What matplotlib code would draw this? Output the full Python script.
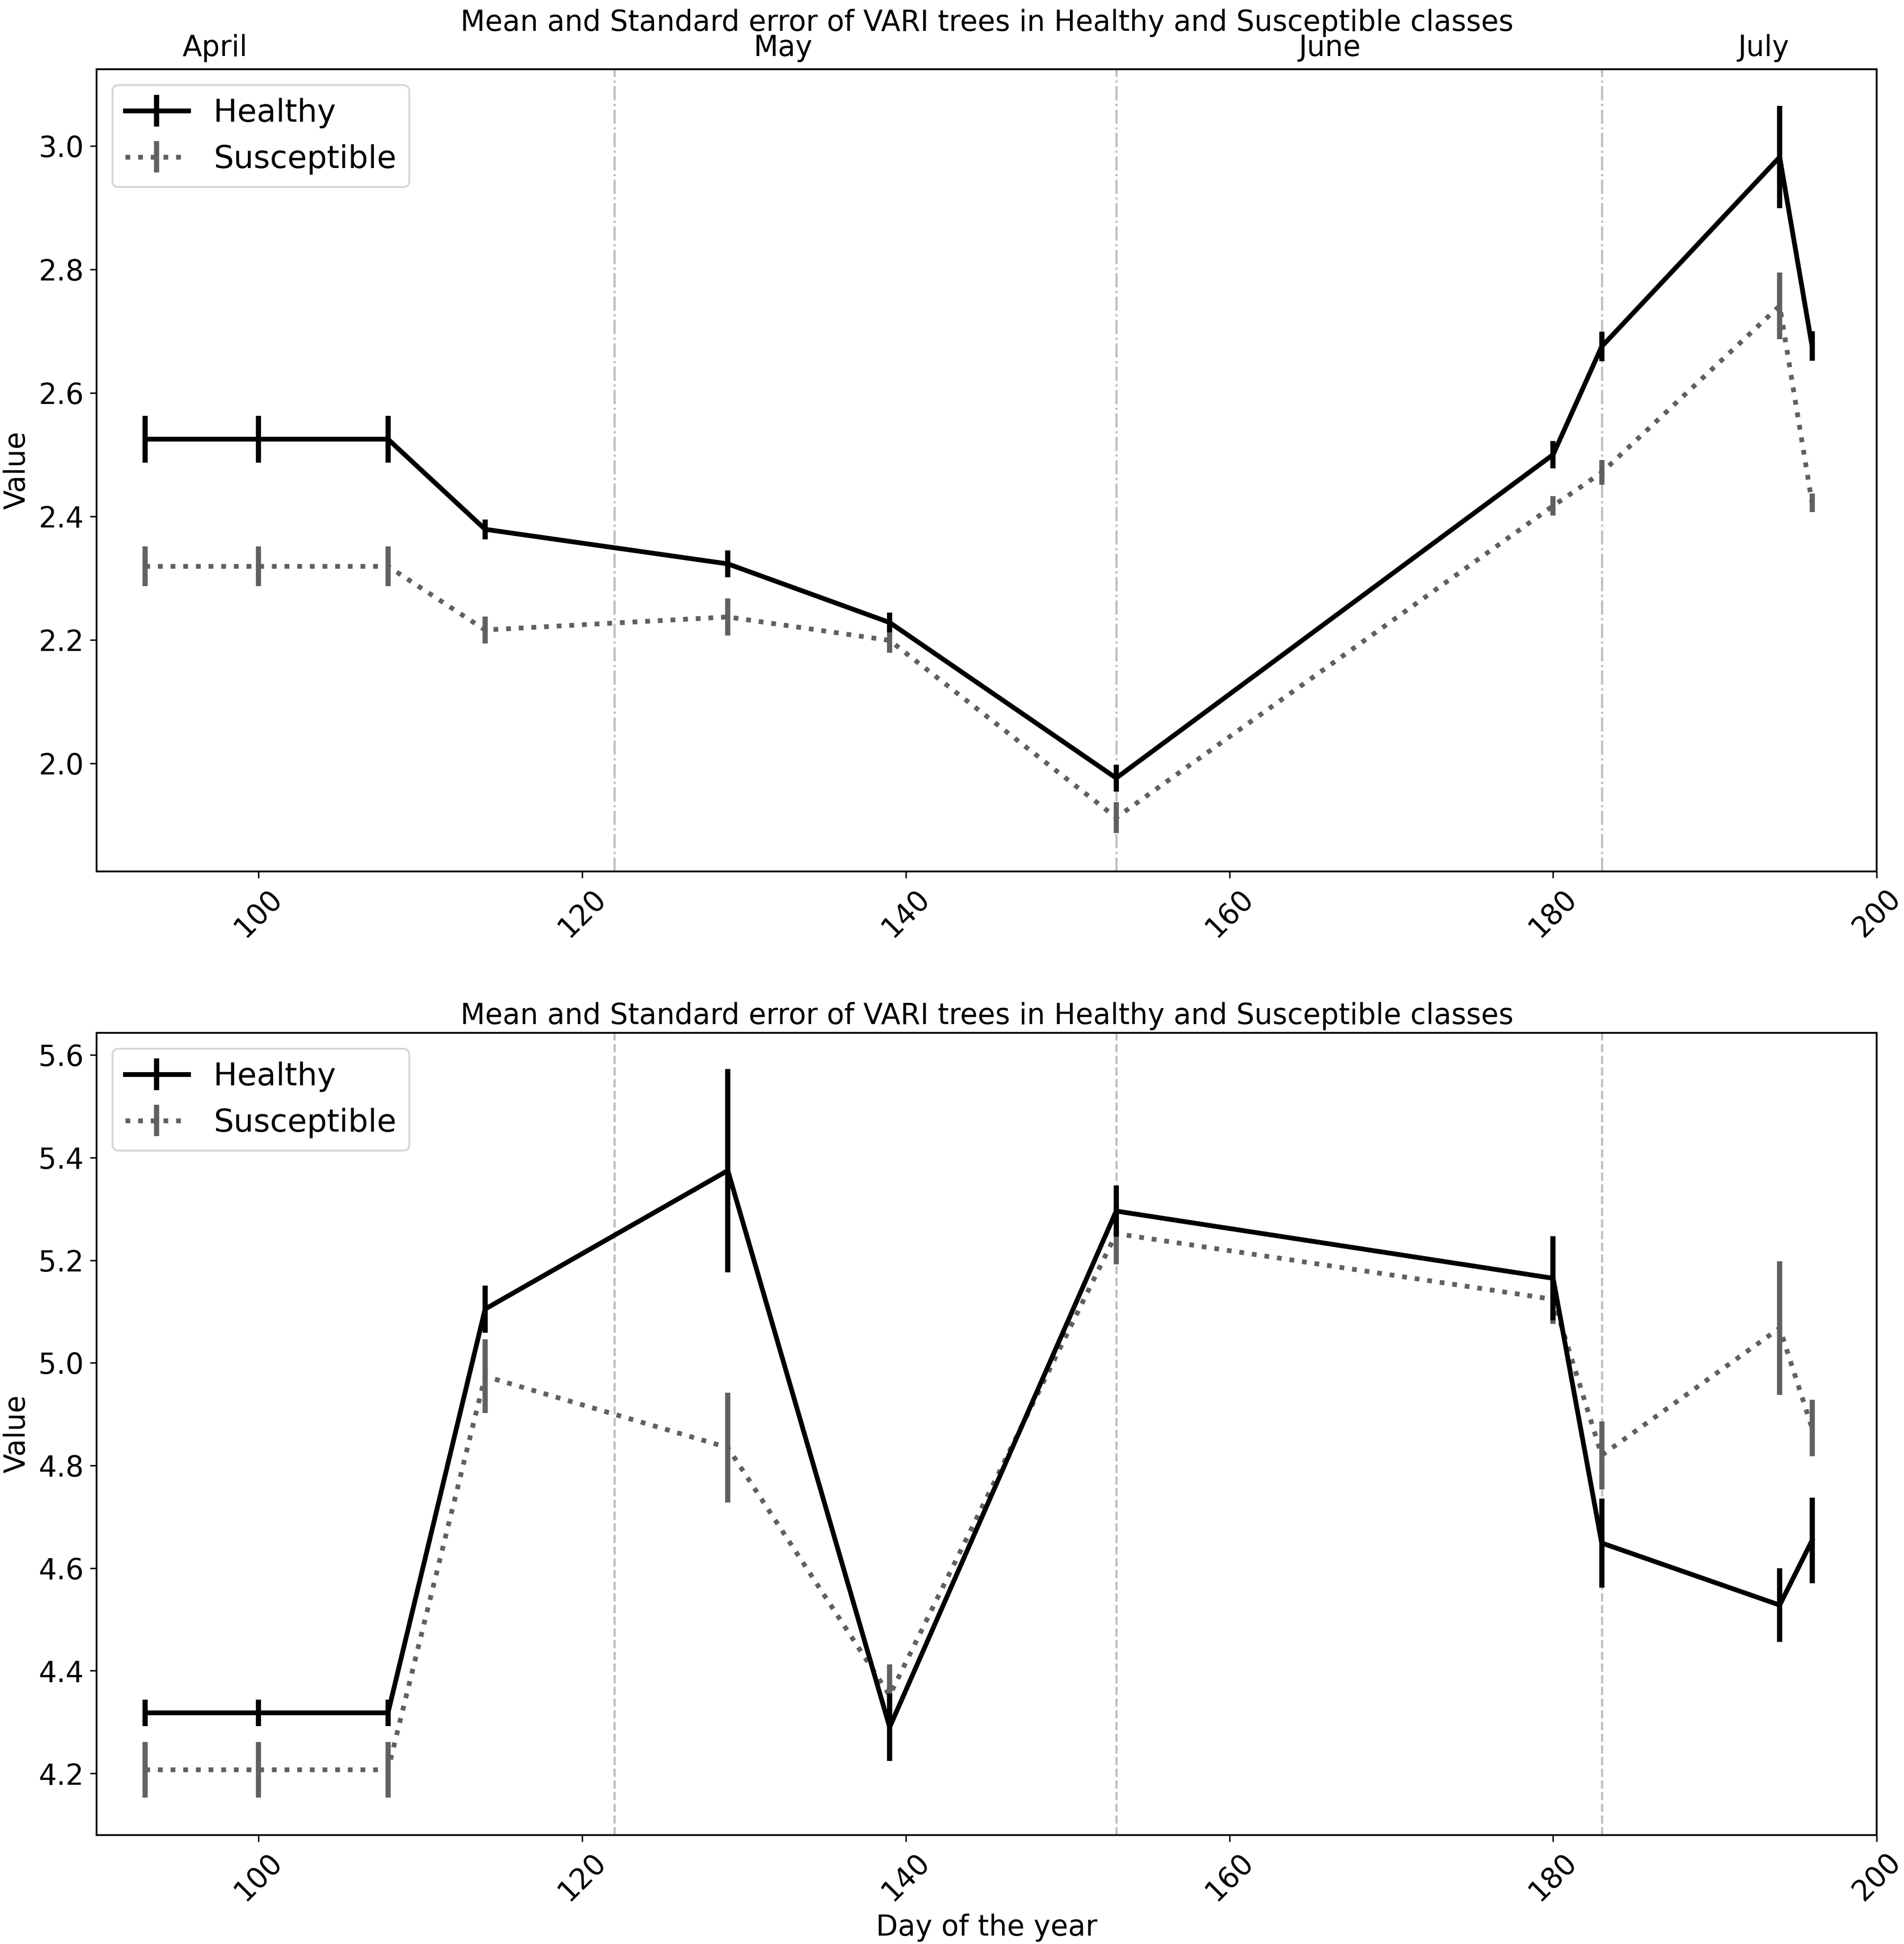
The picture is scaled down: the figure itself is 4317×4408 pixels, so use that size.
import matplotlib
matplotlib.use("Agg")
import matplotlib.pyplot as plt
import matplotlib.transforms as mtransforms

days = [93, 100, 108, 114, 129, 139, 153, 180, 183, 194, 196]

# Top panel
top_healthy_mean = [2.525, 2.525, 2.525, 2.379, 2.323, 2.228, 1.976, 2.500, 2.675, 2.982, 2.676]
top_healthy_se = [0.038, 0.038, 0.038, 0.016, 0.022, 0.016, 0.022, 0.022, 0.024, 0.083, 0.024]
top_susc_mean = [2.319, 2.319, 2.319, 2.216, 2.237, 2.199, 1.912, 2.417, 2.471, 2.741, 2.422]
top_susc_se = [0.032, 0.032, 0.032, 0.022, 0.030, 0.020, 0.025, 0.016, 0.020, 0.054, 0.015]

# Bottom panel
bot_healthy_mean = [4.318, 4.318, 4.318, 5.105, 5.375, 4.290, 5.296, 5.165, 4.649, 4.528, 4.654]
bot_healthy_se = [0.026, 0.026, 0.026, 0.046, 0.198, 0.066, 0.050, 0.082, 0.087, 0.072, 0.083]
bot_susc_mean = [4.207, 4.207, 4.207, 4.974, 4.835, 4.352, 5.252, 5.124, 4.820, 5.068, 4.873]
bot_susc_se = [0.054, 0.054, 0.054, 0.072, 0.107, 0.060, 0.060, 0.048, 0.066, 0.130, 0.055]

month_starts = [122, 153, 183]
month_names = ["April", "May", "June", "July"]
month_label_x = [97.3, 132.4, 166.2, 193.0]

title = "Mean and Standard error of VARI trees in Healthy and Susceptible classes"

FS = 15.5

fig = plt.figure(figsize=(4317 / 300, 4408 / 300), dpi=300)
ax1 = fig.add_axes([0.0508, 0.5518, 0.9349, 0.4125])
ax2 = fig.add_axes([0.0508, 0.0561, 0.9349, 0.4125])

panels = [
    (ax1, top_healthy_mean, top_healthy_se, top_susc_mean, top_susc_se, "-.", (1.825, 3.124)),
    (ax2, bot_healthy_mean, bot_healthy_se, bot_susc_mean, bot_susc_se, "--", (4.080, 5.643)),
]

for ax, hm, hs, sm, ss, vls, ylim in panels:
    for d in month_starts:
        ax.axvline(d, color="#c0c0c0", linestyle=vls, linewidth=1.2, zorder=1)
    ax.errorbar(days, hm, yerr=hs, color="black", linestyle="-", linewidth=2.6,
                elinewidth=2.8, label="Healthy", zorder=3)
    ax.errorbar(days, sm, yerr=ss, color="#606060", linestyle=":", linewidth=2.6,
                elinewidth=2.8, label="Susceptible", zorder=2)
    ax.set_xlim(90, 200)
    ax.set_ylim(*ylim)
    ax.set_xticks([100, 120, 140, 160, 180, 200])
    ax.tick_params(axis="x", labelrotation=45, labelsize=FS)
    ax.tick_params(axis="y", labelsize=FS)
    ax.set_ylabel("Value", fontsize=FS)
    ax.legend(loc="upper left", fontsize=17.2, handlelength=2.0)
    for s in ax.spines.values():
        s.set_linewidth(1.0)

ax1.set_title(title, fontsize=FS, pad=21)
ax2.set_title(title, fontsize=FS, pad=5)
trans = mtransforms.blended_transform_factory(ax1.transData, ax1.transAxes)
for name, x in zip(month_names, month_label_x):
    ax1.text(x, 1.009, name, transform=trans, ha="center", va="bottom", fontsize=FS)

ax2.set_xlabel("Day of the year", fontsize=FS)

fig.savefig("out.png", dpi=300)
